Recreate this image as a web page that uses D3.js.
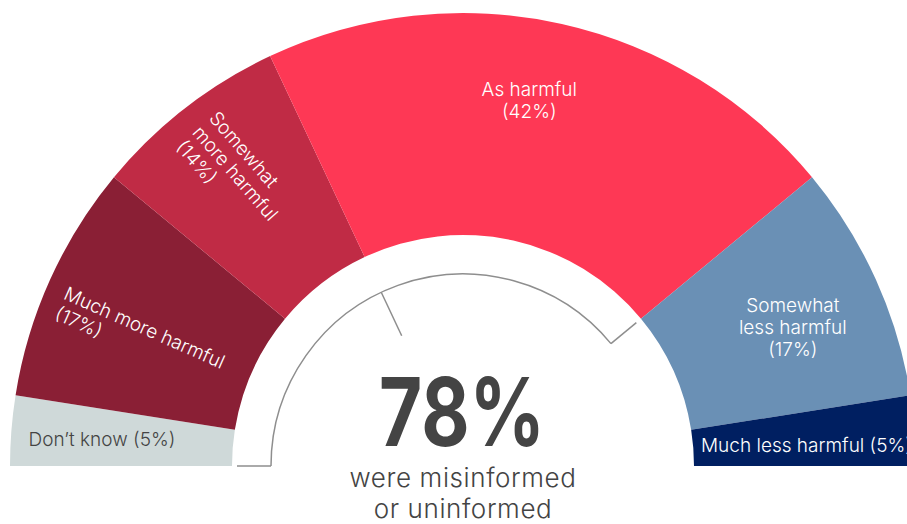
<!DOCTYPE html>
<html>
<head>
<meta charset="utf-8">
<script src="https://cdn.jsdelivr.net/npm/d3@7"></script>
<style>
  html, body { margin: 0; padding: 0; background: #fff; overflow: hidden; }
  svg { display: block; }
  text { font-family: Inter, "Noto Sans", sans-serif; }
</style>
</head>
<body>
<svg id="chart" width="907" height="524"></svg>
<script>
// Survey answers, ordered left to right around the half ring
const categories = ["Don’t know", "Much more harmful", "Somewhat more harmful", "As harmful", "Somewhat less harmful", "Much less harmful"];
const shares = [5, 17, 14, 42, 17, 5];
const colors = ["#cfd9d9", "#8a1f35", "#c02b45", "#fe3855", "#6a90b5", "#001f61"];
const labelLines = [
  ["Don’t know (5%)"],
  ["Much more harmful", "(17%)"],
  ["Somewhat", "more harmful", "(14%)"],
  ["As harmful", "(42%)"],
  ["Somewhat", "less harmful", "(17%)"],
  ["Much less harmful (5%)"]
];
// Headline: share that answered "Don't know" through "As harmful"
const headline = "78%";
const subline = ["were misinformed", "or uninformed"];
const bracketCount = 4;   // categories covered by the bracket
const bracketSplit = 3;   // inner tick after this many categories

// Label placement: position along the half ring (0–100), radius, rotation flag
const labelSpots = [
  { at: 2.3,  r: 362, rotate: false, anchor: "middle", dy: -1 },
  { at: 13.2, r: 434, rotate: true,  rot: 24, anchor: "start", dy: 8 },
  { at: 30.0, r: 431, rotate: true,  rot: 49, anchor: "start", dy: 2 },
  { at: 55.7, r: 372, rotate: false, anchor: "middle", dy: 0 },
  { at: 87.5, r: 357, rotate: false, anchor: "middle", dy: -2 },
  { at: 98.2, r: 344, rotate: false, anchor: "middle", dy: -2 }
];

const svg = d3.select("#chart");
const cx = 463, cy = 466;
const outerR = 453, innerR = 231, bracketR = 192;

const g = svg.append("g").attr("transform", `translate(${cx},${cy})`);

// Map a 0–100 position onto the half ring, left (-90°) to right (+90°)
const angle = d3.scaleLinear().domain([0, 100]).range([-Math.PI / 2, Math.PI / 2]);
const polar = (a, r) => [r * Math.sin(a), -r * Math.cos(a)];

const pie = d3.pie().sort(null).value(d => d)
  .startAngle(-Math.PI / 2).endAngle(Math.PI / 2);
const arcs = pie(shares);
const arc = d3.arc().innerRadius(innerR).outerRadius(outerR);

g.selectAll("path.slice")
  .data(arcs)
  .join("path")
  .attr("class", "slice")
  .attr("d", arc)
  .attr("fill", (d, i) => colors[i]);

// Bracket around the misinformed / uninformed share
const cum = d3.cumsum(shares);
const bracketEnd = cum[bracketCount - 1];
const splitAt = cum[bracketSplit - 1];
const bracket = d3.arc().innerRadius(bracketR).outerRadius(bracketR)
  .startAngle(angle(0)).endAngle(angle(bracketEnd));
const ink = "#8e8e8e";
g.append("path").attr("d", bracket()).attr("fill", "none")
  .attr("stroke", ink).attr("stroke-width", 1.5);
const ticks = [
  { p: 0, r0: bracketR, r1: 226 },
  { p: splitAt, r0: bracketR, r1: 144 },
  { p: bracketEnd, r0: bracketR, r1: 225 }
];
g.selectAll("line.tick")
  .data(ticks)
  .join("line")
  .attr("class", "tick")
  .attr("x1", d => polar(angle(d.p), d.r0)[0])
  .attr("y1", d => polar(angle(d.p), d.r0)[1])
  .attr("x2", d => polar(angle(d.p), d.r1)[0])
  .attr("y2", d => polar(angle(d.p), d.r1)[1])
  .attr("stroke", ink).attr("stroke-width", 1.5);

// Slice labels
const lineH = 22;
labelSpots.forEach((s, i) => {
  const a = angle(s.at);
  const [x, y] = polar(a, s.r);
  const tg = g.append("g")
    .attr("transform", s.rotate ? `translate(${x},${y}) rotate(${s.rot})` : `translate(${x},${y})`);
  const t = tg.append("text")
    .attr("text-anchor", s.anchor)
    .attr("fill", i === 0 ? "#444" : "#fff")
    .attr("font-size", 19)
    .attr("font-weight", 300);
  const lines = labelLines[i];
  const first = s.rotate ? s.dy : s.dy - (lines.length - 1) * lineH / 2 + 7;
  lines.forEach((ln, j) => {
    t.append("tspan").attr("x", 0).attr("y", first + j * lineH).text(ln);
  });
});

// Headline in the middle of the ring
g.append("text")
  .attr("text-anchor", "middle")
  .attr("x", -1).attr("y", 446 - cy)
  .attr("fill", "#444")
  .attr("font-size", 95)
  .attr("font-weight", 700)
  .attr("textLength", 166)
  .attr("lengthAdjust", "spacingAndGlyphs")
  .text(headline);
const sub = g.append("text")
  .attr("text-anchor", "middle")
  .attr("fill", "#444")
  .attr("font-size", 26)
  .attr("font-weight", 300)
  .attr("letter-spacing", 0.6);
subline.forEach((ln, j) => {
  sub.append("tspan").attr("x", 0).attr("y", 487 - cy + j * 31).text(ln);
});
</script>
</body>
</html>
